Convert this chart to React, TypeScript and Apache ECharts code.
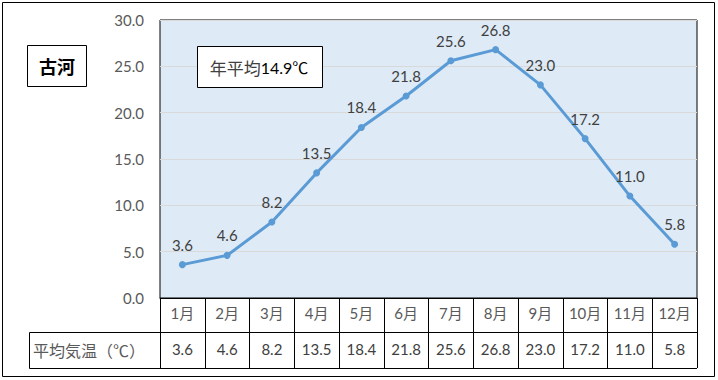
import React, { useEffect, useRef } from "react";
import * as echarts from "echarts";

const months = ["1月", "2月", "3月", "4月", "5月", "6月", "7月", "8月", "9月", "10月", "11月", "12月"];
const temps = [3.6, 4.6, 8.2, 13.5, 18.4, 21.8, 25.6, 26.8, 23.0, 17.2, 11.0, 5.8];
const yTicks = [0, 5, 10, 15, 20, 25, 30];
const cityName = "古河";
const annualLabel = "年平均";
const annualValue = "14.9℃";
const rowLabel = "平均気温（℃）";

const FONT = 'Lato, "Noto Sans CJK JP", sans-serif';
const CJK = '"Noto Sans CJK JP", sans-serif';

export default function App() {
  const ref = useRef<HTMLDivElement>(null);
  useEffect(() => {
    document.body.style.margin = "0";
    if (!ref.current) return;
    const chart = echarts.init(ref.current, undefined, { renderer: "svg" });
    const option: any = {
      animation: false,
      backgroundColor: "#ffffff",
      textStyle: { fontFamily: FONT },
      grid: {
        left: 160,
        right: 21,
        top: 20,
        bottom: 82,
        show: true,
        backgroundColor: "#deebf7",
        borderColor: "#000000",
        borderWidth: 1,
      },
      xAxis: [
        {
          type: "category",
          data: months,
          boundaryGap: true,
          axisLine: { show: true, lineStyle: { color: "#000000", width: 1 } },
          axisTick: { show: true, length: 70, lineStyle: { color: "#000000", width: 1 } },
          axisLabel: { color: "#595959", fontSize: 15, margin: 7, fontFamily: FONT, interval: 0 },
        },
        {
          type: "category",
          data: temps.map((v) => v.toFixed(1)),
          position: "bottom",
          offset: 34,
          boundaryGap: true,
          axisLine: { show: false },
          axisTick: { show: false },
          axisLabel: { color: "#404040", fontSize: 15, margin: 9, fontFamily: FONT, interval: 0 },
        },
      ],
      yAxis: {
        type: "value",
        min: yTicks[0],
        max: yTicks[yTicks.length - 1],
        interval: 5,
        axisLine: { show: false },
        axisTick: { show: false },
        splitLine: { show: true, lineStyle: { color: "#d9d9d9", width: 1 } },
        axisLabel: {
          color: "#595959",
          fontSize: 15,
          margin: 16,
          fontFamily: FONT,
          formatter: (v: number) => v.toFixed(1),
        },
      },
      series: [
        {
          type: "line",
          data: temps,
          xAxisIndex: 0,
          symbol: "circle",
          symbolSize: 7,
          lineStyle: { color: "#5b9bd5", width: 3 },
          itemStyle: { color: "#5b9bd5" },
          label: {
            show: true,
            position: "top",
            distance: 9,
            color: "#404040",
            fontSize: 15,
            fontFamily: FONT,
            formatter: (p: any) => Number(p.value).toFixed(1),
          },
        },
      ],
      graphic: [
        {
          type: "rect",
          shape: { x: 2.5, y: 2.5, width: 712, height: 374 },
          style: { fill: "none", stroke: "#000000", lineWidth: 1 },
          z: 100,
        },
        {
          type: "line",
          shape: { x1: 29.5, y1: 332.5, x2: 697, y2: 332.5 },
          style: { stroke: "#000000", lineWidth: 1 },
          z: 100,
        },
        {
          type: "line",
          shape: { x1: 29.5, y1: 368.5, x2: 697, y2: 368.5 },
          style: { stroke: "#000000", lineWidth: 1 },
          z: 100,
        },
        {
          type: "line",
          shape: { x1: 29.5, y1: 332.5, x2: 29.5, y2: 368.5 },
          style: { stroke: "#000000", lineWidth: 1 },
          z: 100,
        },
        {
          type: "text",
          x: 89,
          y: 350,
          style: {
            text: rowLabel,
            fill: "#595959",
            fontSize: 16,
            fontFamily: CJK,
            align: "center",
            verticalAlign: "middle",
          },
          z: 100,
        },
        {
          type: "rect",
          shape: { x: 27.5, y: 45.5, width: 59, height: 41 },
          style: { fill: "#ffffff", stroke: "#000000", lineWidth: 1 },
          z: 100,
        },
        {
          type: "text",
          x: 57,
          y: 66,
          style: {
            text: cityName,
            fill: "#000000",
            fontSize: 18,
            fontWeight: "bold",
            fontFamily: CJK,
            align: "center",
            verticalAlign: "middle",
          },
          z: 101,
        },
        {
          type: "rect",
          shape: { x: 197.5, y: 46.5, width: 125, height: 41 },
          style: { fill: "#ffffff", stroke: "#000000", lineWidth: 1 },
          z: 100,
        },
        {
          type: "text",
          x: 259,
          y: 67,
          style: {
            text: "{a|" + annualLabel + "}{b|" + annualValue + "}",
            align: "center",
            verticalAlign: "middle",
            rich: {
              a: { fill: "#404040", fontSize: 17, fontFamily: CJK },
              b: { fill: "#000000", fontSize: 16, fontFamily: FONT },
            },
          },
          z: 101,
        },
      ],
    };
    chart.setOption(option);
    return () => chart.dispose();
  }, []);
  return <div ref={ref} style={{ width: 718, height: 380 }} />;
}
